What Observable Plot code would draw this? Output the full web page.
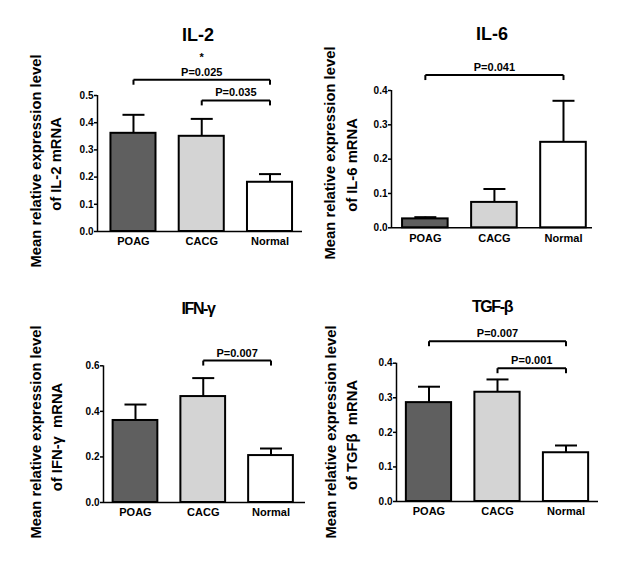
<!DOCTYPE html>
<html><head><meta charset="utf-8">
<script src="https://cdn.jsdelivr.net/npm/d3@7"></script>
<script src="https://cdn.jsdelivr.net/npm/@observablehq/plot@0.6"></script>
<style>
html,body{margin:0;padding:0;background:#fff;}
#root{position:relative;width:625px;height:564px;overflow:hidden;font-family:"Liberation Sans",Arial,sans-serif;font-weight:bold;color:#000;}
.panel{position:absolute;}
.panel svg{display:block;overflow:visible;}
.title{position:absolute;transform:translate(-50%,-50%);font-size:18px;white-space:nowrap;line-height:1;}
.ylab{position:absolute;width:0;height:0;}
.ylab span{position:absolute;left:0;top:0;transform:translate(-50%,-50%) rotate(-90deg);white-space:pre;font-size:14.8px;line-height:1;}
g[aria-label^="x-axis"] text{font-size:11px;}
g[aria-label^="y-axis"] text{font-size:10px;}
g[aria-label^="y-axis"] path, g[aria-label^="y-axis"] line{stroke-width:1.5px;}
</style></head><body><div id="root"></div>
<script>
// ---- data ----
const categories = ["POAG", "CACG", "Normal"];
const fills = ["#5f5f5f", "#d4d4d4", "#ffffff"];

const il2Mean = [0.361, 0.350, 0.181];
const il2Sem  = [0.068, 0.064, 0.030];
const il2Ticks = [0, 0.1, 0.2, 0.3, 0.4, 0.5];
const il2Brackets = [
  {from: 0, to: 2, level: 0.558, label: "*\nP=0.025"},
  {from: 1, to: 2, level: 0.482, label: "P=0.035"}
];

const il6Mean = [0.026, 0.074, 0.249];
const il6Sem  = [0.005, 0.039, 0.121];
const il6Ticks = [0, 0.1, 0.2, 0.3, 0.4];
const il6Brackets = [
  {from: 0, to: 2, level: 0.445, label: "P=0.041"}
];

const ifnMean = [0.360, 0.465, 0.206];
const ifnSem  = [0.070, 0.081, 0.031];
const ifnTicks = [0, 0.2, 0.4, 0.6];
const ifnBrackets = [
  {from: 1, to: 2, level: 0.623, label: "P=0.007"}
];

const tgfMean = [0.286, 0.316, 0.141];
const tgfSem  = [0.046, 0.037, 0.021];
const tgfTicks = [0, 0.1, 0.2, 0.3, 0.4];
const tgfBrackets = [
  {from: 0, to: 2, level: 0.4636, label: "P=0.007"},
  {from: 1, to: 2, level: 0.3855, label: "P=0.001"}
];

// ---- layout ----
const panels = [
  {title: "IL-2", mean: il2Mean, sem: il2Sem, ticks: il2Ticks, brackets: il2Brackets,
   ylabel: ["Mean relative expression level", "of IL-2 mRNA"],
   box: {left: 0, top: 0, width: 310, height: 282},
   margin: {top: 95, right: 8, bottom: 51, left: 97},
   xDomain: [-0.527, 2.476], yDomain: [0, 0.5],
   titleAt: [198, 35], titleStyle: "",
   labelAt: [[36, 161], [56, 164]]},
  {title: "IL-6", mean: il6Mean, sem: il6Sem, ticks: il6Ticks, brackets: il6Brackets,
   ylabel: ["Mean relative expression level", "of IL-6 mRNA"],
   box: {left: 310, top: 0, width: 315, height: 282},
   margin: {top: 90, right: 33, bottom: 54.7, left: 81},
   xDomain: [-0.49, 2.42], yDomain: [0, 0.4],
   titleAt: [492, 34], titleStyle: "",
   labelAt: [[330, 153], [352, 165]]},
  {title: "IFN-γ", mean: ifnMean, sem: ifnSem, ticks: ifnTicks, brackets: ifnBrackets,
   ylabel: ["Mean relative expression level", "of IFN-γ  mRNA"],
   box: {left: 0, top: 282, width: 310, height: 282},
   margin: {top: 83.3, right: 5, bottom: 62, left: 103},
   xDomain: [-0.472, 2.509], yDomain: [0, 0.6],
   titleAt: [198, 309], titleStyle: "letter-spacing:-1.4px;font-size:16px;",
   labelAt: [[36, 432], [57, 437]]},
  {title: "TGF-β", mean: tgfMean, sem: tgfSem, ticks: tgfTicks, brackets: tgfBrackets,
   ylabel: ["Mean relative expression level", "of TGFβ  mRNA"],
   box: {left: 310, top: 282, width: 315, height: 282},
   margin: {top: 80.7, right: 27, bottom: 63, left: 86},
   xDomain: [-0.474, 2.474], yDomain: [0, 0.4],
   titleAt: [492, 307], titleStyle: "letter-spacing:-1.4px;font-size:16px;",
   labelAt: [[331, 432], [352, 435]]}
];

const barHalf = 0.33;
const dropSymbol = {draw(ctx, size) { const l = Math.sqrt(size / Math.PI); ctx.moveTo(0, 0); ctx.lineTo(0, l); }};
const capSymbol = {draw(ctx, size) { const l = Math.sqrt(size / Math.PI); ctx.moveTo(-l, 0); ctx.lineTo(l, 0); }};

const root = document.getElementById("root");

for (const p of panels) {
  const rows = categories.map((c, i) => ({i, cat: c, mean: p.mean[i], top: p.mean[i] + p.sem[i], fill: fills[i]}));
  const ends = p.brackets.flatMap(b => [{x: b.from, y: b.level}, {x: b.to, y: b.level}]);
  const chart = Plot.plot({
    width: p.box.width,
    height: p.box.height,
    marginTop: p.margin.top, marginRight: p.margin.right,
    marginBottom: p.margin.bottom, marginLeft: p.margin.left,
    style: {fontFamily: '"Liberation Sans", Arial, sans-serif', fontWeight: "bold", fontSize: "10px", color: "#000", background: "transparent", overflow: "visible"},
    x: {type: "linear", domain: p.xDomain, ticks: [0, 1, 2], tickFormat: i => categories[i], tickSize: 0, tickPadding: 6, label: null},
    y: {domain: p.yDomain, ticks: p.ticks, tickFormat: d3.format(".1f"), tickSize: 3, tickPadding: 1, label: null},
    color: {type: "identity"},
    marks: [
      Plot.ruleX([p.xDomain[0]], {y1: p.yDomain[0], y2: p.yDomain[1], stroke: "#000", strokeWidth: 1.5}),
      Plot.rect(rows, {x1: d => d.i - barHalf, x2: d => d.i + barHalf, y1: 0, y2: "mean", fill: "fill", stroke: "#000", strokeWidth: 2}),
      Plot.ruleY([0], {stroke: "#000", strokeWidth: 1.5}),
      Plot.ruleX(rows, {x: "i", y1: "mean", y2: "top", stroke: "#000", strokeWidth: 2}),
      Plot.dot(rows, {x: "i", y: "top", symbol: capSymbol, r: 11, stroke: "#000", strokeWidth: 2, fill: "none"}),
      Plot.link(p.brackets, {x1: "from", x2: "to", y1: "level", y2: "level", stroke: "#000", strokeWidth: 2}),
      Plot.dot(ends, {x: "x", y: "y", symbol: dropSymbol, r: 5, stroke: "#000", strokeWidth: 2, fill: "none"}),
      Plot.text(p.brackets, {x: d => (d.from + d.to) / 2, y: "level", text: "label", lineAnchor: "bottom", dy: -4, fontSize: 11, fontWeight: "bold", lineHeight: 1.35, fill: "#000"})
    ]
  });
  const wrap = document.createElement("div");
  wrap.className = "panel";
  wrap.style.left = p.box.left + "px";
  wrap.style.top = p.box.top + "px";
  wrap.appendChild(chart);
  root.appendChild(wrap);

  const t = document.createElement("div");
  t.className = "title";
  t.textContent = p.title;
  t.style.cssText = `left:${p.titleAt[0]}px;top:${p.titleAt[1]}px;` + p.titleStyle;
  root.appendChild(t);

  p.ylabel.forEach((line, k) => {
    const d = document.createElement("div");
    d.className = "ylab";
    d.style.left = p.labelAt[k][0] + "px";
    d.style.top = p.labelAt[k][1] + "px";
    const s = document.createElement("span");
    s.textContent = line;
    d.appendChild(s);
    root.appendChild(d);
  });
}
</script></body></html>
